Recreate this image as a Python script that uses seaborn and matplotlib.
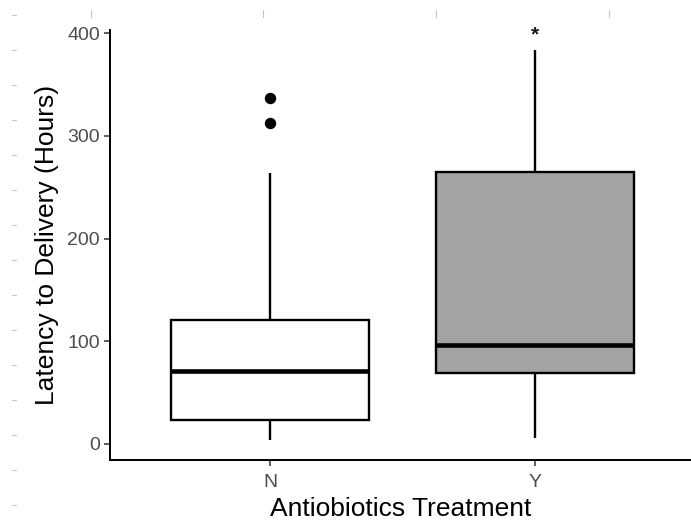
import matplotlib
matplotlib.use("Agg")
import matplotlib.pyplot as plt
from matplotlib.lines import Line2D
import seaborn as sns
import pandas as pd

# ---- data (five-number summaries + outliers) ----
groups = ["N", "Y"]
whisker_low = [4, 6]
q1 = [23, 69]
median = [71, 96]
q3 = [121, 265]
whisker_high = [264, 384]
outliers = [[312, 337], []]
box_colors = ["#FFFFFF", "#A3A3A4"]
xlabel = "Antiobiotics Treatment"
ylabel = "Latency to Delivery (Hours)"
yticks = [0, 100, 200, 300, 400]
signif_label = "*"
signif_y = 393

# Build samples that reproduce the summaries exactly with seaborn's percentile rule
rows = []
for g, lo, a, m, b, hi, out in zip(groups, whisker_low, q1, median, q3, whisker_high, outliers):
    sample = [lo] + [a] * 3 + [m] * 3 + [b] * 3 + [hi] + list(out)
    rows += [(g, v) for v in sample]
df = pd.DataFrame(rows, columns=["treatment", "latency"])

sns.set_theme(style="white")
plt.rcParams["font.family"] = ["Liberation Sans", "DejaVu Sans"]

fig = plt.figure(figsize=(6.91, 5.21), dpi=100)
ax = fig.add_axes([110 / 691, 1 - 460 / 521, 581 / 691, 430 / 521])

sns.boxplot(
    data=df, x="treatment", y="latency", hue="treatment",
    palette=dict(zip(groups, box_colors)), order=groups, hue_order=groups,
    width=0.75, linewidth=1.7, linecolor="black", showcaps=False, legend=False,
    medianprops=dict(linewidth=3.3, color="black"),
    whiskerprops=dict(linewidth=1.7, color="black"),
    boxprops=dict(linewidth=1.7, edgecolor="black"),
    flierprops=dict(marker="o", markersize=7.2, markerfacecolor="black",
                    markeredgecolor="black"),
    ax=ax,
)

ax.text(1, signif_y, signif_label, ha="center", va="baseline", fontsize=15,
        fontweight="bold", color="#1A1A1A")

ax.set_xlim(-0.604, 1.589)
ax.set_ylim(-15.6, 403.0)
ax.set_yticks(yticks)
ax.set_xlabel(xlabel, fontsize=19, color="black", labelpad=4)
ax.set_ylabel(ylabel, fontsize=19, color="black", labelpad=6)

for s in ["top", "right"]:
    ax.spines[s].set_visible(False)
for s in ["left", "bottom"]:
    ax.spines[s].set_color("black")
    ax.spines[s].set_linewidth(1.4)

ax.tick_params(axis="both", which="major", length=4.3, width=1.1, color="#333333",
               labelsize=14, labelcolor="#4D4D4D", left=True, bottom=True)
ax.tick_params(axis="y", pad=3)
ax.tick_params(axis="x", pad=6)
ax.grid(False)

# faint scan artefacts visible around the reference image border
for yy in range(15, 521, 35):
    fig.add_artist(Line2D([12 / 691, 16 / 691], [1 - yy / 521] * 2, color="#C8C8C8", lw=0.8))
for xx in [91, 263, 436, 609]:
    fig.add_artist(Line2D([xx / 691] * 2, [1 - 10 / 521, 1 - 17 / 521], color="#C8C8C8", lw=0.8))

fig.savefig("out.png", dpi=100)
